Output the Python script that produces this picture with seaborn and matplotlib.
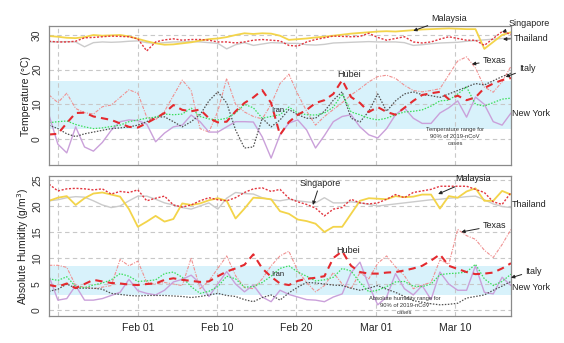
import matplotlib
matplotlib.use("Agg")
import matplotlib.pyplot as plt
import seaborn as sns
import pandas as pd

# ---------------- data ----------------
days = list(range(53))
tick_labels = ["Feb 01", "Feb 10", "Feb 20", "Mar 01", "Mar 10"]

temp_malaysia = [29.7, 29.5, 29.2, 29.1, 29.4, 30.0, 29.8, 29.9, 30.0, 29.6, 28.9, 28.2, 27.6, 27.2, 27.3, 27.6,
                 27.9, 28.4, 28.8, 29.0, 29.4, 30.0, 30.5, 30.3, 30.5, 30.4, 29.8, 28.6, 28.8, 29.0, 29.3, 29.5,
                 29.8, 30.1, 30.4, 30.6, 30.8, 31.0, 31.1, 31.0, 31.2, 31.4, 31.6, 31.7, 31.8, 31.9, 31.8, 31.7,
                 31.7, 26.0, 28.0, 30.0, 30.8]
temp_singapore = [28.2, 28.0, 28.0, 28.2, 29.2, 29.3, 29.5, 29.7, 29.6, 29.5, 28.9, 25.4, 28.0, 28.6, 28.9, 28.5,
                  28.7, 28.7, 28.5, 28.0, 28.0, 27.7, 28.0, 28.5, 28.7, 28.5, 28.3, 27.0, 26.8, 28.0, 28.7, 29.2,
                  29.7, 29.6, 29.5, 29.6, 30.5, 29.3, 28.5, 29.0, 29.5, 28.0, 27.7, 28.0, 28.8, 29.5, 29.0, 28.5,
                  28.5, 27.0, 29.0, 31.0, 30.2]
temp_thailand = [28.0, 28.0, 28.1, 28.0, 26.6, 27.8, 28.0, 27.9, 28.0, 28.2, 28.3, 27.8, 27.6, 27.8, 28.0, 28.0,
                 28.1, 28.0, 27.8, 27.6, 26.0, 27.2, 27.8, 27.0, 27.4, 27.8, 27.7, 27.6, 27.6, 27.2, 27.1, 27.3,
                 27.7, 27.8, 27.9, 28.0, 28.1, 28.0, 28.0, 28.0, 27.8, 27.0, 27.2, 27.5, 27.7, 27.8, 27.9, 28.2,
                 28.4, 28.6, 28.8, 29.0, 29.1]
temp_texas = [12.7, 10.5, 13.2, 8.8, 7.6, 7.2, 9.3, 9.8, 12.0, 14.2, 13.2, 6.3, 5.6, 8.0, 12.5, 17.0,
              14.0, 3.0, 2.0, 8.0, 17.5, 10.0, 7.8, 6.5, 5.8, 10.0, 16.0, 18.7, 13.0, 8.0, 4.0, 6.5,
              8.5, 10.5, 12.7, 14.5, 16.5, 18.0, 18.4, 17.5, 15.5, 14.0, 13.6, 14.0, 14.5, 18.5, 22.5, 23.7,
              20.5, 15.0, 13.5, 16.5, 21.0]
temp_hubei = [1.3, 1.5, 4.6, 7.5, 7.6, 6.5, 6.0, 5.5, 4.5, 3.5, 3.3, 4.6, 6.0, 7.5, 9.8, 8.4,
              8.0, 8.5, 6.0, 4.8, 5.0, 8.0, 10.4, 12.0, 14.1, 10.4, 1.2, 4.9, 7.0, 8.4, 10.4, 11.2,
              13.0, 17.0, 12.1, 10.4, 7.8, 9.2, 7.8, 7.0, 9.0, 11.0, 12.7, 13.2, 13.6, 11.5, 12.5, 11.2,
              12.0, 14.7, 16.0, 17.0, 17.6]
temp_italy = [4.0, 3.0, 1.5, 0.7, 1.5, 2.0, 2.5, 3.0, 3.2, 3.5, 4.0, 5.0, 6.3, 6.4, 5.0, 3.5,
              5.0, 7.0, 11.0, 13.6, 10.4, 2.6, -2.6, -2.3, 6.0, 3.5, 5.5, 8.5, 7.0, 6.0, 6.0, 8.0,
              11.2, 13.6, 6.0, 4.9, 8.0, 13.0, 8.0, 11.0, 13.0, 13.6, 12.8, 12.5, 12.0, 13.0, 14.0, 15.0,
              16.0, 15.6, 16.8, 18.0, 19.0]
temp_iran = [4.7, 5.0, 5.2, 4.2, 3.5, 3.0, 3.2, 3.6, 4.0, 5.0, 5.5, 6.0, 6.3, 7.2, 7.0, 7.2,
             8.9, 6.5, 5.8, 5.5, 6.0, 7.5, 10.0, 9.0, 6.0, 6.5, 7.0, 9.2, 7.5, 7.0, 6.9, 7.5,
             9.2, 13.0, 7.8, 7.0, 6.0, 5.5, 6.0, 7.0, 7.8, 8.0, 8.4, 9.5, 11.0, 11.2, 13.0, 15.0,
             10.0, 9.5, 10.5, 11.5, 11.8]
temp_newyork = [6.9, -1.5, -4.0, 3.5, -2.3, -3.5, -1.0, 2.5, 5.0, 5.5, 5.3, 4.3, -0.8, 1.7, 3.5, 4.0,
                6.9, 5.0, 2.0, 2.0, 3.5, 5.0, 5.0, 4.9, 0.6, -5.5, 1.2, 4.6, 5.5, 2.6, -2.6, 1.0,
                5.0, 6.5, 7.0, 3.5, 1.2, 0.3, 3.0, 7.0, 9.0, 6.0, 4.5, 4.5, 7.5, 9.0, 11.0, 6.3,
                12.1, 10.0, 5.0, 4.0, 7.5]

hum_singapore = [24.2, 22.9, 23.3, 23.4, 23.3, 23.1, 23.3, 22.3, 22.8, 22.6, 23.1, 21.0, 21.5, 21.9, 20.2, 19.8,
                 20.2, 21.0, 21.6, 21.2, 21.0, 21.6, 22.6, 23.3, 23.5, 22.8, 23.2, 21.5, 20.8, 20.3, 19.6, 18.1,
                 19.4, 19.7, 21.3, 20.6, 20.4, 20.6, 21.3, 22.2, 21.6, 22.6, 22.9, 23.2, 23.8, 23.8, 23.8, 23.8,
                 23.2, 22.6, 20.8, 20.3, 22.6]
hum_malaysia = [21.0, 21.6, 21.9, 20.2, 21.5, 22.4, 22.6, 22.2, 21.8, 19.4, 16.0, 17.0, 18.1, 17.0, 17.5, 20.5,
                20.2, 20.5, 21.1, 21.5, 21.0, 17.6, 19.5, 21.6, 21.5, 21.3, 19.0, 18.5, 17.4, 17.1, 16.6, 15.0,
                16.0, 16.0, 18.5, 21.0, 21.5, 21.4, 21.3, 21.9, 21.7, 21.8, 22.2, 22.2, 19.5, 21.9, 21.6, 22.8,
                23.4, 21.0, 21.0, 22.9, 22.2]
hum_thailand = [21.0, 21.2, 21.6, 21.8, 21.7, 21.0, 20.2, 19.7, 20.0, 21.0, 21.9, 21.9, 21.3, 20.6, 20.2, 19.7,
                19.4, 20.0, 20.6, 19.4, 21.5, 22.6, 22.4, 22.3, 21.6, 21.2, 21.0, 21.3, 21.0, 20.8, 20.6, 21.6,
                20.6, 20.6, 20.8, 20.6, 20.3, 20.0, 20.2, 20.4, 20.6, 20.8, 21.0, 21.2, 21.3, 21.5, 21.6, 21.8,
                21.9, 21.2, 20.4, 19.9, 19.7]
hum_texas = [8.6, 8.6, 8.2, 4.7, 4.4, 4.1, 4.4, 4.7, 9.7, 8.5, 9.4, 5.3, 5.0, 5.3, 5.0, 4.7,
             10.0, 4.1, 5.6, 8.0, 10.4, 6.6, 4.3, 4.1, 6.0, 8.5, 10.4, 11.3, 7.5, 5.3, 3.5, 4.7,
             7.2, 5.0, 4.1, 7.2, 6.0, 9.0, 10.4, 8.3, 6.6, 4.1, 4.8, 5.3, 9.6, 8.8, 15.5, 14.3,
             13.6, 11.5, 10.1, 12.6, 15.5]
hum_hubei = [4.8, 4.5, 5.1, 4.2, 5.0, 5.8, 5.5, 5.2, 5.1, 4.9, 4.8, 5.0, 5.1, 5.8, 6.1, 5.8,
             5.6, 5.4, 5.5, 6.5, 7.4, 8.0, 8.7, 10.7, 8.0, 6.4, 5.1, 4.8, 5.6, 6.0, 6.2, 6.5,
             10.0, 11.3, 8.5, 7.3, 7.0, 7.0, 7.2, 7.3, 7.6, 8.0, 8.5, 9.5, 10.7, 8.5, 7.9, 7.3,
             6.9, 7.0, 7.2, 8.0, 9.0]
hum_italy = [3.6, 4.0, 5.0, 4.2, 4.2, 4.2, 4.0, 3.2, 3.0, 2.8, 2.7, 2.8, 2.8, 2.8, 2.7, 2.6,
             2.4, 2.6, 2.9, 3.2, 2.8, 2.6, 2.0, 1.6, 2.4, 2.9, 1.9, 3.3, 4.4, 5.3, 5.2, 5.0,
             4.8, 4.7, 4.2, 3.8, 4.2, 4.7, 4.0, 3.4, 2.6, 1.8, 1.5, 1.2, 1.0, 1.1, 1.3, 2.3,
             2.6, 2.9, 3.8, 4.6, 5.5]
hum_iran = [6.0, 5.7, 6.4, 4.5, 4.3, 4.8, 5.2, 5.8, 7.0, 6.5, 5.5, 5.6, 5.8, 7.0, 7.3, 6.3,
            4.5, 3.2, 3.6, 4.5, 6.5, 6.0, 4.4, 4.5, 5.3, 6.5, 8.0, 8.5, 7.3, 6.5, 5.6, 5.8,
            6.3, 8.0, 7.5, 5.3, 3.5, 3.8, 4.5, 5.4, 5.5, 4.6, 4.5, 5.0, 6.8, 7.0, 7.1, 7.3,
            8.8, 6.0, 4.7, 5.5, 6.9]
hum_newyork = [6.5, 1.9, 2.2, 4.7, 1.9, 1.9, 2.2, 2.8, 3.4, 5.9, 3.7, 3.2, 2.9, 3.8, 5.4, 5.9,
               6.7, 5.1, 2.6, 5.0, 7.4, 5.0, 3.5, 4.8, 2.5, 1.6, 3.8, 3.0, 2.5, 2.0, 1.9, 1.6,
               2.5, 3.1, 7.2, 9.2, 4.7, 1.0, 2.5, 7.0, 4.1, 2.9, 4.7, 2.0, 7.3, 5.0, 3.8, 3.8,
               8.5, 3.4, 3.1, 6.3, 4.7]

temp_band = (3.0, 16.7)
hum_band = (2.8, 8.5)

# ---------------- style ----------------
sns.set_style("white")
plt.rcParams['font.family'] = ['Liberation Sans', 'DejaVu Sans']

styles = {
    "Thailand":  dict(color="#cbcbcb", lw=1.0, ls="-"),
    "Malaysia":  dict(color="#f3d44a", lw=1.3, ls="-"),
    "Singapore": dict(color="#e2363f", lw=1.0, ls=(0, (1.5, 1.2))),
    "Texas":     dict(color="#f09090", lw=0.8, ls=(0, (3, 1.2, 1, 1.2))),
    "New York":  dict(color="#caa0da", lw=1.0, ls="-"),
    "Italy":     dict(color="#505050", lw=0.9, ls=(0, (1.2, 1.2))),
    "Iran":      dict(color="#3ade5a", lw=0.9, ls=(0, (1.2, 1.2))),
    "Hubei":     dict(color="#e42a2f", lw=1.5, ls=(0, (3.5, 2.5))),
}

temp = {"Thailand": temp_thailand, "Malaysia": temp_malaysia, "Singapore": temp_singapore,
        "Texas": temp_texas, "New York": temp_newyork, "Italy": temp_italy,
        "Iran": temp_iran, "Hubei": temp_hubei}
hum = {"Thailand": hum_thailand, "Malaysia": hum_malaysia, "Singapore": hum_singapore,
       "Texas": hum_texas, "New York": hum_newyork, "Italy": hum_italy,
       "Iran": hum_iran, "Hubei": hum_hubei}

fig = plt.figure(figsize=(5.64, 3.43), dpi=100)
ax1 = fig.add_axes([49 / 564, 1 - 165 / 343, 462 / 564, 139 / 343])
ax2 = fig.add_axes([49 / 564, 1 - 316 / 343, 462 / 564, 140 / 343])

grid_x = [1.0, 10.0, 18.9, 27.8, 36.8, 45.7]
tick_x = grid_x[1:]


def panel(ax, data, band, ylim, yticks, ylabel):
    ax.axhspan(band[0], band[1], color="#d8f2fb", lw=0, zorder=0)
    for gx in grid_x:
        ax.axvline(gx, color="#c8c8c8", lw=0.8, ls=(0, (4, 3)), zorder=0.5)
    for gy in yticks:
        ax.axhline(gy, color="#c8c8c8", lw=0.8, ls=(0, (4, 3)), zorder=0.5)
    for name, vals in data.items():
        st = styles[name]
        df = pd.DataFrame({"day": days, "value": vals})
        sns.lineplot(data=df, x="day", y="value", ax=ax, color=st["color"],
                     linewidth=st["lw"], linestyle=st["ls"], zorder=2)
    ax.set_xlim(0, 52)
    ax.set_ylim(*ylim)
    ax.set_yticks(yticks)
    ax.set_yticklabels([str(v) for v in yticks], rotation=90, va="center", fontsize=7.5, color="#333333")
    ax.set_xticks(tick_x)
    ax.set_xlabel("")
    ax.set_ylabel(ylabel, fontsize=7.5, color="#222222", labelpad=1)
    ax.tick_params(axis="both", length=3, width=0.6, color="#888888", direction="out", pad=2)
    for sp in ax.spines.values():
        sp.set_color("#8a8a8a")
        sp.set_linewidth(0.9)


panel(ax1, temp, temp_band, (-7.5, 32.6), [0, 10, 20, 30], "Temperature (\u00b0C)")
panel(ax2, hum, hum_band, (-1.15, 25.77), [0, 5, 10, 15, 20, 25], "Absolute Humidity (g/m$^3$)")
ax1.set_xticklabels([])
ax2.set_xticklabels(tick_labels, fontsize=7.5, color="#222222")

arrow = dict(arrowstyle="-|>", color="#222222", lw=0.7, mutation_scale=5, shrinkA=0, shrinkB=0)
lab = dict(fontsize=6.5, color="#222222", annotation_clip=False)

# top panel annotations
ax1.annotate("Malaysia", xy=(41.0, 31.2), xytext=(45.0, 34.9), ha="center", va="center", arrowprops=arrow, **lab)
ax1.annotate("Singapore", xy=(51.0, 30.9), xytext=(54.1, 33.2), ha="center", va="center", arrowprops=arrow, **lab)
ax1.annotate("Thailand", xy=(51.1, 28.8), xytext=(52.3, 29.1), ha="left", va="center", arrowprops=arrow, **lab)
ax1.annotate("Texas", xy=(47.6, 21.6), xytext=(50.1, 22.6), ha="center", va="center", arrowprops=arrow, **lab)
ax1.annotate("Italy", xy=(51.4, 17.9), xytext=(53.8, 20.2), ha="center", va="center", arrowprops=arrow, **lab)
ax1.annotate("New York", xy=(52.1, 7.5), ha="left", va="center", **lab)
ax1.annotate("Hubei", xy=(33.8, 18.6), ha="center", va="center", **lab)
ax1.annotate("Iran", xy=(25.7, 8.1), ha="center", va="center", fontsize=5.5, color="#222222")
ax1.text(45.7, 0.6, "Temperature range for\n90% of 2019-nCoV\ncases", ha="center", va="center",
         fontsize=4.2, color="#333333", linespacing=1.5)

# bottom panel annotations
ax2.annotate("Singapore", xy=(29.7, 20.2), xytext=(30.5, 24.4), ha="center", va="center", arrowprops=arrow, **lab)
ax2.annotate("Malaysia", xy=(43.8, 22.3), xytext=(47.7, 25.2), ha="center", va="center", arrowprops=arrow, **lab)
ax2.annotate("Thailand", xy=(52.1, 20.3), ha="left", va="center", **lab)
ax2.annotate("Texas", xy=(46.4, 15.0), xytext=(50.1, 16.2), ha="center", va="center", arrowprops=arrow, **lab)
ax2.annotate("Hubei", xy=(33.7, 11.5), ha="center", va="center", **lab)
ax2.annotate("Iran", xy=(25.7, 6.9), ha="center", va="center", fontsize=5.5, color="#222222")
ax2.annotate("Italy", xy=(52.0, 6.2), xytext=(54.5, 7.5), ha="center", va="center", arrowprops=arrow, **lab)
ax2.annotate("New York", xy=(52.1, 4.4), ha="left", va="center", **lab)
ax2.text(40.0, 0.8, "Absolute humidity range for\n90% of 2019-nCoV\ncases", ha="center", va="center",
         fontsize=4.2, color="#333333", linespacing=1.5)

fig.savefig("out.png", dpi=100)
